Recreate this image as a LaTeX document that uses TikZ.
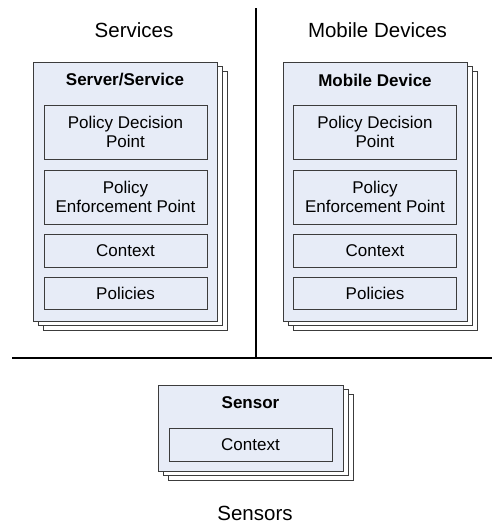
\documentclass[tikz,border=0pt]{standalone}
\usepackage{fontspec}
\setmainfont{Liberation Sans}
\usetikzlibrary{shadows}

\definecolor{boxfill}{RGB}{231,236,247}
\definecolor{linegray}{RGB}{60,60,60}

\newcommand{\boxfont}{\fontsize{17}{19.5}\selectfont}
\newcommand{\headfont}{\fontsize{20.5}{24}\selectfont}

\tikzset{
  frame/.style={draw=linegray, fill=boxfill, line width=0.8pt,
    minimum width=184pt,
    double copy shadow={shadow xshift=5pt, shadow yshift=-4.5pt,
      fill=white, draw=linegray, line width=0.8pt}},
  part/.style={draw=linegray, fill=boxfill, line width=0.8pt,
    minimum width=163pt, align=center, font=\boxfont, inner sep=0pt},
  heading/.style={font=\headfont},
  title/.style={font=\boxfont\bfseries},
  divider/.style={line width=2pt, black}
}

\begin{document}
\begin{tikzpicture}[x=1pt,y=-1pt]
\useasboundingbox (0,0) rectangle (492,523);

% column headings
\node[heading] (svc) at (134,30) {Services};
\node[heading] (mob) at (377.5,30) {Mobile Devices};
\node[heading] (sen) at (255,513) {Sensors};

% dividers
\coordinate (vtop) at (256,8);
\coordinate (vbot) at (256,358);
\coordinate (hleft) at (12,358);
\coordinate (hright) at (492,358);
\draw[divider] (vtop) -- (vbot);
\draw[divider] (hleft) -- (hright);

% server / service
\node[frame, minimum height=259pt] (server) at (125,191.5) {};
\node[title] (servertitle) at (125,80) {Server/Service};
\node[part, minimum height=54pt] (srvpdp) at (125.5,132) {Policy Decision\\Point};
\node[part, minimum height=54pt] (srvpep) at (125.5,197) {Policy\\Enforcement Point};
\node[part, minimum height=33pt] (srvctx) at (125.5,250.5) {Context};
\node[part, minimum height=32pt] (srvpol) at (125.5,293) {Policies};

% mobile device
\node[frame, minimum height=259pt] (mobile) at (375,191.5) {};
\node[title] (mobiletitle) at (375,80) {Mobile Device};
\node[part, minimum height=54pt] (mobpdp) at (375,132) {Policy Decision\\Point};
\node[part, minimum height=54pt] (mobpep) at (375,197) {Policy\\Enforcement Point};
\node[part, minimum height=33pt] (mobctx) at (375,250.5) {Context};
\node[part, minimum height=32pt] (mobpol) at (375,293) {Policies};

% sensor
\node[frame, minimum width=185pt, minimum height=86pt] (sensor) at (250.5,428) {};
\node[title] (sensortitle) at (250.5,403) {Sensor};
\node[part, minimum height=33pt] (senctx) at (250.5,444.5) {Context};
\end{tikzpicture}
\end{document}
